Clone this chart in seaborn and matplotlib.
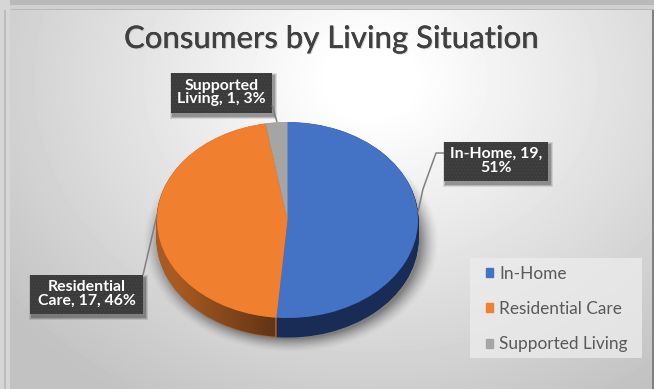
import numpy as np
import matplotlib
matplotlib.use("Agg")
import matplotlib.pyplot as plt
import matplotlib.patheffects as pe
from matplotlib.patches import Rectangle, PathPatch
from matplotlib.path import Path
import seaborn as sns

# Chart data
categories = ["In-Home", "Residential Care", "Supported Living"]
counts = [19, 17, 1]
box_labels = ["In-Home, 19,\n51%", "Residential\nCare, 17, 46%", "Supported\nLiving, 1, 3%"]
title = "Consumers by Living Situation"

sns.set_theme(style="white")
plt.rcParams["font.family"] = ["Lato", "DejaVu Sans"]
plt.rcParams["hatch.linewidth"] = 0.6

W, H = 654, 389
palette = sns.color_palette(["#4472C4", "#F08030", "#A5A5A5"])
side_colors = ["#182C55", "#A85A22", "#6E6E6E"]

fig = plt.figure(figsize=(W / 100, H / 100), dpi=100)

# Page backdrop and card gradient, in pixel space
bg = fig.add_axes([0, 0, 1, 1], zorder=0)
bg.axis("off")
yy, xx = np.mgrid[0:H, 0:W]
dist = np.hypot((xx - 370) / 420, (yy - 80) / 340)
card = np.clip(1.0 - 0.24 * np.clip(dist - 0.1, 0, None), 0.76, 1)
bg.imshow(card, cmap="gray", vmin=0, vmax=1, extent=(0, W, H, 0), aspect="auto", zorder=0)
bg.add_patch(Rectangle((0, 0), W, 10, color="#B9B9B9", lw=0, zorder=1))
bg.add_patch(Rectangle((0, 5), W, 4, color="#D0D0D0", lw=0, zorder=1))
bg.add_patch(Rectangle((0, 0), 10, H, color="#D6D6D6", lw=0, zorder=1))
bg.add_patch(Rectangle((4, 10), 2, H, color="#BDBDBD", lw=0, zorder=1))
bg.add_patch(Rectangle((652, 10), 2, H, color="#808080", lw=0, zorder=1))

# Soft drop shadow beneath the pie
cx, cy, rx, ry, depth = 287.5, 220.0, 130.5, 98.0, 19.0
shadow_d = np.hypot((xx - cx - 3) / (rx + 3), (yy - cy - depth - 2) / (ry + 2))
shadow_a = np.clip((1.11 - shadow_d) / 0.14, 0, 1) ** 1.5 * 0.42
shadow = np.zeros((H, W, 4))
shadow[..., 3] = shadow_a
bg.imshow(shadow, extent=(0, W, H, 0), aspect="auto", zorder=2)
bg.set_xlim(0, W)
bg.set_ylim(H, 0)

# Elliptical pie: stretching the axes flattens the circle
ax = fig.add_axes([(cx - rx) / W, 1 - (cy + ry + depth) / H, 2 * rx / W, (2 * ry + depth) / H], zorder=1)
dy = 2 * depth / (2 * ry)
pie_kw = dict(startangle=90, counterclock=False, radius=1)
for off in np.linspace(dy, 0, 24)[:-1]:
    side, _ = ax.pie(counts, colors=side_colors, center=(0, -off),
                     wedgeprops=dict(linewidth=0.8), **pie_kw)
    for s, c in zip(side, side_colors):
        s.set_edgecolor(c)
wedges, _ = ax.pie(counts, colors=palette, center=(0, 0), wedgeprops=dict(linewidth=0), **pie_kw)
ax.set_aspect("auto")

# Darkening of the rim toward the front of the orange slice
fractions = np.array(counts) / sum(counts)
start = np.pi / 2 - 2 * np.pi * fractions[0]
end = start - 2 * np.pi * fractions[1]
arc = np.linspace(start, end, 80)
upper = np.c_[np.cos(arc), np.sin(arc)]
lower = np.c_[np.cos(arc[::-1]), np.sin(arc[::-1]) - dy]
rim = np.r_[upper, lower, upper[:1]]
codes = [Path.MOVETO] + [Path.LINETO] * (len(rim) - 2) + [Path.CLOSEPOLY]
clip = PathPatch(Path(rim, codes), transform=ax.transData, fc="none", ec="none")
ax.add_patch(clip)
ramp = np.zeros((2, 256, 4))
ramp[..., 3] = np.linspace(0.42, 0.0, 256)
img = ax.imshow(ramp, extent=(-0.1, -0.85, -1 - dy, -0.2), aspect="auto", zorder=3)
img.set_clip_path(clip)
for w in wedges:
    w.set_zorder(4)
ax.set_aspect("auto")
ax.set_xlim(-1, 1)
ax.set_ylim(-1 - dy, 1)

# Overlay in pixel space for the title, callouts and leaders
top = fig.add_axes([0, 0, 1, 1], zorder=2)
top.patch.set_alpha(0)
top.set_xlim(0, W)
top.set_ylim(H, 0)
top.axis("off")

top.text(331.5, 39, title, ha="center", va="center", fontsize=22.4, fontweight="medium", color="#404040",
         path_effects=[pe.withSimplePatchShadow(offset=(0.7, -0.7), shadow_rgbFace="#AAAAAA", alpha=0.5), pe.Normal()])

leaders = [([444, 436, 423, 418], [153, 153, 189, 212]),
           ([143, 157], [275, 215]),
           ([272, 277], [105, 122])]
for lx, ly in leaders:
    top.plot(lx, ly, color="#7F7F7F", lw=1.1, solid_capstyle="butt")

boxes = [(444, 142, 104, 39), (30, 275, 113, 39), (171, 73, 101, 40)]
for (x, y, w, h), text in zip(boxes, box_labels):
    for grow, a in zip((3, 2, 1), (0.10, 0.14, 0.2)):
        top.add_patch(Rectangle((x + 2 - grow, y + 3 - grow), w + 2 * grow, h + 2 * grow, color="black", alpha=a, lw=0))
    top.add_patch(Rectangle((x, y), w, h, facecolor="#3B3B3B", edgecolor="#474747", hatch=".....", lw=0))
    top.text(x + w / 2, y + h / 2 - 0.5, text, ha="center", va="center", color="white", fontsize=11.4,
             fontweight="bold", linespacing=0.95)

# Legend panel and legend with the slice colours
top.add_patch(Rectangle((470, 258), 172, 100, facecolor="#EDEDED", alpha=0.75, lw=0))
handles = [Rectangle((0, 0), 1, 1, color=c) for c in palette]
top.legend(handles, categories, loc="center left", bbox_to_anchor=(486 / W, 1 - 309 / H),
           bbox_transform=fig.transFigure, fontsize=12.4, frameon=False, labelcolor="#595959",
           handlelength=0.42, handleheight=0.42, handletextpad=0.33, labelspacing=1.12,
           borderaxespad=0, borderpad=0)

fig.savefig("out.png", dpi=100)
